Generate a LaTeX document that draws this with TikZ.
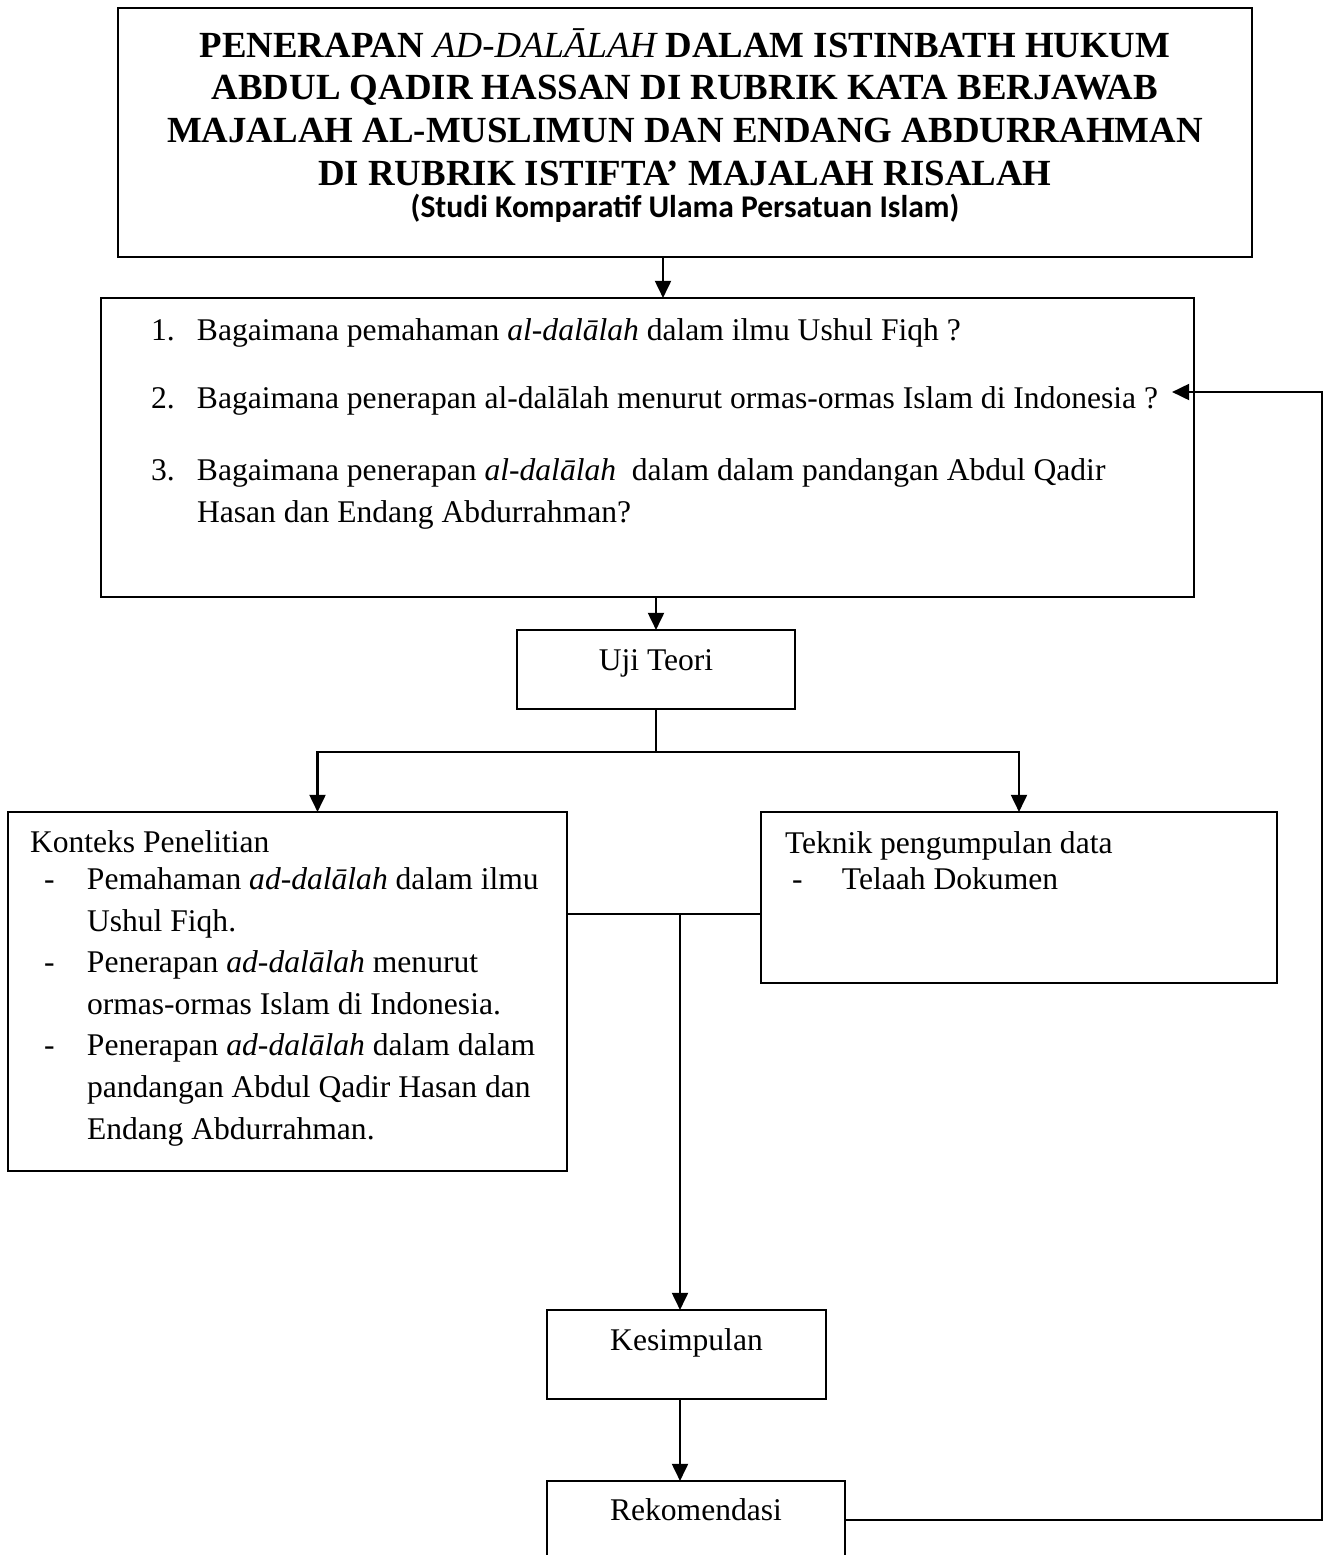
\documentclass[tikz,border=0pt]{standalone}
\usepackage{fontspec}
\setmainfont{Liberation Serif}
\newfontfamily\calibrifont{Carlito}
\usetikzlibrary{arrows.meta}

% one pixel of the page
\newdimen\px
\px=0.38pt
% a dashed point in a box
\newcommand{\dashpoint}[3]{\hangindent=#2\hangafter=1\hspace*{#1}\makebox[\dimexpr#2-#1\relax][l]{-}#3\par}

\begin{document}
\begin{tikzpicture}
    [x=0.38pt, y=-0.38pt,
    % Styles
    box/.style={draw,line width=1pt,inner sep=0pt,outer sep=0pt,anchor=north west},
    link/.style={line width=1pt},
    arrow link/.style={link,-{Triangle[length=6.5pt,width=6pt]}}]

    \useasboundingbox (0,0) rectangle (1329,1555);

    % The boxes
    \node[box,line width=1.1pt] (title) at (118,8) {\parbox[c][249\px][t]{1134\px}{%
        \centering\fontsize{14}{16.3}\selectfont\bfseries
        \rule{0pt}{49\px}PENERAPAN {\mdseries\itshape AD-DALĀLAH} DALAM ISTINBATH HUKUM\\
        ABDUL QADIR HASSAN DI RUBRIK KATA BERJAWAB\\
        MAJALAH AL-MUSLIMUN DAN ENDANG ABDURRAHMAN\\
        DI RUBRIK ISTIFTA’ MAJALAH RISALAH\par
        {\calibrifont\fontsize{12}{12.2}\selectfont (Studi Komparatif Ulama Persatuan Islam)\par}}};

    \node[box] (quest) at (101,298) {\parbox[c][299\px][t]{1093\px}{%
        \fontsize{12}{16}\selectfont\raggedright\leftskip=50\px
        \rule{0pt}{42\px}\makebox[46\px][l]{1.}Bagaimana pemahaman \textit{al-dalālah} dalam ilmu Ushul Fiqh ?\par
        \vspace{26\px}
        \makebox[46\px][l]{2.}Bagaimana penerapan al-dalālah menurut ormas-ormas Islam di Indonesia ?\par
        \vspace{30\px}
        \hangindent=46\px\hangafter=1
        \makebox[46\px][l]{3.}Bagaimana penerapan \textit{al-dalālah} \ dalam dalam pandangan Abdul Qadir\newline
        Hasan dan Endang Abdurrahman?\par}};

    \node[box] (uji) at (517,630) {\parbox[c][79\px][t]{278\px}{%
        \centering\fontsize{12}{15.8}\selectfont\rule{0pt}{40\px}Uji Teori}};

    \node[box] (konteks) at (8,812) {\parbox[c][359\px][t]{559\px}{%
        \fontsize{12}{15.8}\selectfont\raggedright
        \hspace*{22\px}\rule{0pt}{40\px}Konteks Penelitian\par
        \vspace{-4\px}
        \dashpoint{36\px}{79\px}{Pemahaman \textit{ad-dalālah} dalam ilmu\newline Ushul Fiqh.}
        \dashpoint{36\px}{79\px}{Penerapan \textit{ad-dalālah} menurut\newline ormas-ormas Islam di Indonesia.}
        \dashpoint{36\px}{79\px}{Penerapan \textit{ad-dalālah} dalam dalam\newline pandangan Abdul Qadir Hasan dan\newline Endang Abdurrahman.}}};

    \node[box] (teknik) at (761,812) {\parbox[c][171\px][t]{516\px}{%
        \fontsize{12}{15.8}\selectfont\raggedright
        \hspace*{24\px}\rule{0pt}{41\px}Teknik pengumpulan data\par
        \vspace{-5\px}
        \dashpoint{31\px}{81\px}{Telaah Dokumen}}};

    \node[box] (kesim) at (547,1310) {\parbox[c][89\px][t]{279\px}{%
        \centering\fontsize{12}{15.8}\selectfont\rule{0pt}{40\px}Kesimpulan}};

    \node[box] (rekom) at (547,1481) {\parbox[c][78\px][t]{298\px}{%
        \centering\fontsize{12}{15.8}\selectfont\rule{0pt}{39\px}Rekomendasi}};

    % The connectors
    \coordinate (down) at ([xshift=-22\px]title.south);
    \draw[arrow link] (down) -- (down |- quest.north);
    \draw[arrow link] (uji.north |- quest.south) -- (uji.north);

    \coordinate (split) at ([yshift=-43\px]uji.south);
    \draw[link] (uji.south) -- (split);
    \draw[arrow link] (split) -| ([xshift=30\px]konteks.north);
    \draw[arrow link] (split) -| (teknik.north);

    \coordinate (join) at (680,914);
    \draw[link] (konteks.east |- join) -- (teknik.west |- join);
    \draw[arrow link] (join) -- (join |- kesim.north);
    \draw[arrow link] (join |- kesim.south) -- (join |- rekom.north);

    % back to the questions
    \coordinate (back) at (1322,392);
    \coordinate (back end) at (1172,392);
    \draw[arrow link] (rekom.east) -| (back) -- (back end);
\end{tikzpicture}
\end{document}
